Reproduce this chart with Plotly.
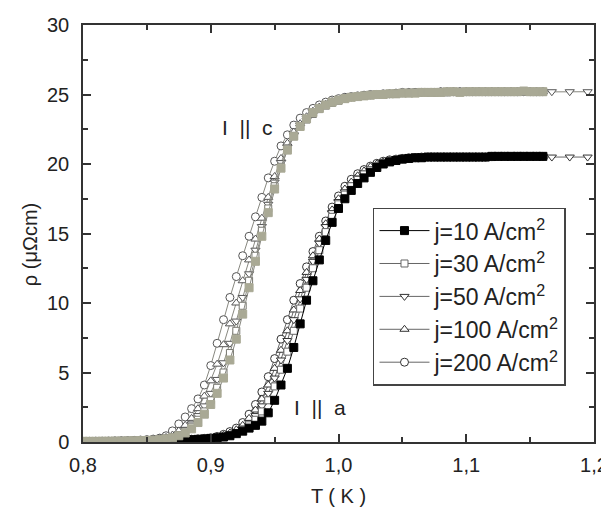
import plotly.graph_objects as go

# Temperature grid (K)
T = [0.800, 0.805, 0.810, 0.815, 0.820, 0.825, 0.830, 0.835, 0.840, 0.845,
     0.850, 0.855, 0.860, 0.865, 0.870, 0.875, 0.880, 0.885, 0.890, 0.895,
     0.900, 0.905, 0.910, 0.915, 0.920, 0.925, 0.930, 0.935, 0.940, 0.945,
     0.950, 0.955, 0.960, 0.965, 0.970, 0.975, 0.980, 0.985, 0.990, 0.995,
     1.000, 1.005, 1.010, 1.015, 1.020, 1.025, 1.030, 1.035, 1.040, 1.045,
     1.050, 1.055, 1.060, 1.065, 1.070, 1.075, 1.080, 1.085, 1.090, 1.095,
     1.100, 1.105, 1.110, 1.115, 1.120, 1.125, 1.130, 1.135, 1.140, 1.145,
     1.150, 1.155, 1.160]
T_tail = [1.167, 1.181, 1.195]

# I || c  (rho in micro-Ohm cm)
c10 = [0.05, 0.05, 0.05, 0.06, 0.06, 0.07, 0.07, 0.08, 0.09, 0.10,
       0.11, 0.13, 0.16, 0.22, 0.30, 0.45, 0.65, 0.95, 1.4, 2.0,
       2.7, 3.5, 4.6, 5.9, 7.4, 9.2, 11.1, 13.0, 14.8, 16.5,
       18.2, 19.7, 21.0, 22.0, 22.7, 23.25, 23.7, 24.0, 24.25, 24.45,
       24.6, 24.7, 24.8, 24.85, 24.9, 24.95, 25.0, 25.0, 25.05, 25.05,
       25.1, 25.1, 25.1, 25.15, 25.15, 25.15, 25.15, 25.2, 25.2, 25.15,
       25.2, 25.2, 25.2, 25.2, 25.2, 25.2, 25.2, 25.2, 25.2, 25.25,
       25.2, 25.2, 25.2]
c30 = [0.05, 0.05, 0.06, 0.06, 0.07, 0.07, 0.08, 0.09, 0.10, 0.11,
       0.13, 0.15, 0.19, 0.26, 0.35, 0.5, 0.75, 1.1, 1.6, 2.2,
       3.0, 3.9, 5.0, 6.4, 8.0, 9.8, 11.6, 13.4, 15.2, 16.8,
       18.4, 19.8, 21.1, 22.0, 22.7, 23.2, 23.6, 23.95, 24.2, 24.4,
       24.55, 24.7, 24.8, 24.85, 24.9, 24.95, 25.0, 25.0, 25.05, 25.05,
       25.1, 25.1, 25.15, 25.15, 25.15, 25.15, 25.15, 25.15, 25.2, 25.2,
       25.2, 25.2, 25.2, 25.2, 25.2, 25.2, 25.2, 25.2, 25.2, 25.2,
       25.2, 25.2, 25.2]
c50 = [0.05, 0.05, 0.06, 0.06, 0.07, 0.08, 0.08, 0.09, 0.10, 0.12,
       0.14, 0.17, 0.21, 0.28, 0.4, 0.6, 0.9, 1.3, 1.9, 2.6,
       3.5, 4.5, 5.7, 7.1, 8.7, 10.4, 12.1, 13.8, 15.5, 17.1,
       18.7, 20.1, 21.2, 22.1, 22.8, 23.3, 23.7, 24.0, 24.25, 24.45,
       24.6, 24.7, 24.8, 24.85, 24.9, 24.95, 25.0, 25.0, 25.05, 25.05,
       25.1, 25.15, 25.15, 25.15, 25.15, 25.15, 25.2, 25.2, 25.2, 25.2,
       25.2, 25.2, 25.2, 25.2, 25.2, 25.2, 25.2, 25.2, 25.2, 25.2,
       25.2, 25.2, 25.2]
c50_tail = [25.2, 25.2, 25.2]
c100 = [0.05, 0.05, 0.06, 0.06, 0.07, 0.08, 0.09, 0.10, 0.11, 0.13,
        0.15, 0.19, 0.24, 0.33, 0.5, 0.8, 1.2, 1.7, 2.4, 3.3,
        4.4, 5.6, 7.0, 8.5, 10.0, 11.6, 13.1, 14.6, 16.1, 17.6,
        19.1, 20.4, 21.5, 22.3, 22.9, 23.4, 23.8, 24.1, 24.3, 24.5,
        24.6, 24.7, 24.8, 24.85, 24.9, 24.95, 25.0, 25.0, 25.05, 25.05,
        25.1, 25.15, 25.15, 25.15, 25.15, 25.15, 25.2, 25.2, 25.2, 25.2,
        25.2, 25.2, 25.2, 25.2, 25.2, 25.2, 25.2, 25.2, 25.2, 25.2,
        25.2, 25.2, 25.2]
c200 = [0.05, 0.05, 0.06, 0.06, 0.07, 0.08, 0.09, 0.10, 0.12, 0.14,
        0.17, 0.21, 0.28, 0.45, 0.8, 1.3, 1.8, 2.4, 3.1, 4.1,
        5.5, 7.1, 8.8, 10.4, 11.9, 13.4, 14.8, 16.2, 17.6, 19.0,
        20.2, 21.3, 22.1, 22.8, 23.3, 23.7, 24.0, 24.25, 24.45, 24.6,
        24.7, 24.8, 24.85, 24.9, 24.95, 25.0, 25.0, 25.05, 25.05, 25.1,
        25.15, 25.15, 25.15, 25.15, 25.15, 25.15, 25.2, 25.2, 25.2, 25.2,
        25.2, 25.2, 25.2, 25.2, 25.2, 25.2, 25.2, 25.2, 25.2, 25.2,
        25.2, 25.2, 25.2]

# I || a
a10 = [0.02, 0.02, 0.02, 0.03, 0.03, 0.03, 0.04, 0.04, 0.05, 0.05,
       0.06, 0.07, 0.08, 0.09, 0.10, 0.12, 0.14, 0.16, 0.19, 0.22,
       0.26, 0.30, 0.36, 0.45, 0.6, 0.78, 1.0, 1.2, 1.5, 2.1,
       3.0, 4.1, 5.3, 6.8, 8.5, 10.2, 11.6, 13.1, 14.5, 15.8,
       16.8, 17.5, 18.1, 18.6, 19.0, 19.4, 19.75, 20.0, 20.15, 20.25,
       20.35, 20.4, 20.45, 20.45, 20.5, 20.5, 20.5, 20.5, 20.5, 20.5,
       20.5, 20.5, 20.5, 20.5, 20.55, 20.55, 20.55, 20.55, 20.55, 20.55,
       20.55, 20.55, 20.55]
a30 = [0.02, 0.02, 0.02, 0.03, 0.03, 0.03, 0.04, 0.04, 0.05, 0.05,
       0.06, 0.07, 0.08, 0.09, 0.11, 0.13, 0.15, 0.17, 0.20, 0.23,
       0.26, 0.31, 0.38, 0.48, 0.65, 0.88, 1.2, 1.6, 2.2, 3.0,
       4.0, 5.2, 6.5, 8.0, 9.6, 11.1, 12.5, 13.8, 15.1, 16.2,
       17.1, 17.8, 18.4, 18.85, 19.25, 19.55, 19.85, 20.05, 20.2, 20.3,
       20.35, 20.4, 20.45, 20.45, 20.5, 20.5, 20.5, 20.5, 20.5, 20.5,
       20.5, 20.5, 20.5, 20.5, 20.5, 20.55, 20.55, 20.55, 20.55, 20.55,
       20.55, 20.55, 20.55]
a50 = [0.02, 0.02, 0.02, 0.03, 0.03, 0.03, 0.04, 0.04, 0.05, 0.05,
       0.06, 0.07, 0.08, 0.10, 0.11, 0.13, 0.15, 0.17, 0.20, 0.23,
       0.27, 0.33, 0.42, 0.55, 0.75, 1.0, 1.4, 1.9, 2.6, 3.5,
       4.6, 5.9, 7.3, 8.8, 10.3, 11.7, 13.0, 14.3, 15.5, 16.5,
       17.3, 18.0, 18.5, 19.0, 19.35, 19.65, 19.9, 20.1, 20.2, 20.3,
       20.35, 20.4, 20.45, 20.45, 20.5, 20.5, 20.5, 20.5, 20.5, 20.5,
       20.5, 20.5, 20.5, 20.5, 20.5, 20.55, 20.55, 20.55, 20.55, 20.55,
       20.55, 20.55, 20.55]
a50_tail = [20.5, 20.5, 20.5]
a100 = [0.02, 0.02, 0.02, 0.03, 0.03, 0.04, 0.04, 0.05, 0.05, 0.06,
        0.07, 0.08, 0.09, 0.10, 0.12, 0.14, 0.16, 0.18, 0.21, 0.24,
        0.28, 0.36, 0.48, 0.65, 0.88, 1.2, 1.7, 2.3, 3.1, 4.1,
        5.3, 6.6, 8.0, 9.5, 10.9, 12.2, 13.4, 14.6, 15.7, 16.7,
        17.5, 18.2, 18.7, 19.15, 19.5, 19.8, 20.0, 20.15, 20.25, 20.35,
        20.4, 20.4, 20.45, 20.45, 20.5, 20.5, 20.5, 20.5, 20.5, 20.5,
        20.5, 20.5, 20.5, 20.5, 20.5, 20.55, 20.55, 20.55, 20.55, 20.55,
        20.55, 20.55, 20.55]
a200 = [0.02, 0.02, 0.02, 0.03, 0.03, 0.04, 0.04, 0.05, 0.05, 0.06,
        0.07, 0.08, 0.09, 0.11, 0.13, 0.15, 0.17, 0.20, 0.23, 0.26,
        0.3, 0.4, 0.55, 0.75, 1.0, 1.4, 2.0, 2.7, 3.6, 4.7,
        6.0, 7.4, 8.8, 10.2, 11.4, 12.6, 13.7, 14.8, 15.9, 16.9,
        17.7, 18.4, 18.9, 19.3, 19.6, 19.85, 20.05, 20.2, 20.3, 20.35,
        20.4, 20.45, 20.45, 20.5, 20.5, 20.5, 20.5, 20.5, 20.5, 20.5,
        20.5, 20.5, 20.5, 20.5, 20.55, 20.55, 20.55, 20.55, 20.55, 20.55,
        20.55, 20.55, 20.55]

labels = ["j=10 A/cm<sup>2</sup>", "j=30 A/cm<sup>2</sup>", "j=50 A/cm<sup>2</sup>",
          "j=100 A/cm<sup>2</sup>", "j=200 A/cm<sup>2</sup>"]

for s in (c10, c30, c50, c100, c200, a10, a30, a50, a100, a200):
    assert len(s) == len(T), len(s)

FONT = "Liberation Sans, Arial, sans-serif"
OLIVE = "#a9a995"

fig = go.Figure()

def add(x, y, name, symbol, fill, edge, linecol, size, show, group):
    fig.add_trace(go.Scatter(
        x=x, y=y, mode="lines+markers", name=name, legendgroup=group,
        showlegend=show,
        line=dict(color=linecol, width=1),
        marker=dict(symbol=symbol, size=size, color=fill,
                    line=dict(color=edge, width=1)),
    ))

# I || a group (open markers first, filled squares on top)
add(T, a200, labels[4], "circle", "white", "#333333", "#666666", 8, True, "g5")
add(T, a100, labels[3], "triangle-up", "white", "#333333", "#666666", 8, True, "g4")
add(T + T_tail, a50 + a50_tail, labels[2], "triangle-down", "white", "#333333", "#666666", 8, True, "g3")
add(T, a30, labels[1], "square", "white", "#666666", "#666666", 7, True, "g2")
add(T, a10, labels[0], "square", "black", "black", "black", 8, True, "g1")

# I || c group
add(T, c200, labels[4], "circle", "white", "#555555", "#888880", 8, False, "g5")
add(T, c100, labels[3], "triangle-up", "white", "#555555", "#888880", 8, False, "g4")
add(T + T_tail, c50 + c50_tail, labels[2], "triangle-down", "white", "#555555", "#888880", 8, False, "g3")
add(T, c30, labels[1], "square", "white", "#777770", "#888880", 7, False, "g2")
add(T, c10, labels[0], "square", OLIVE, OLIVE, "#888880", 8, False, "g1")

fig.add_annotation(x=0.929, y=22.6, text="I&nbsp; ||&nbsp; c", showarrow=False,
                   font=dict(family=FONT, size=21, color="#222"))
fig.add_annotation(x=0.9855, y=2.5, text="I&nbsp; ||&nbsp; a", showarrow=False,
                   font=dict(family=FONT, size=21, color="#222"))
# y-axis title (placed a little below the axis centre, as in the original)
fig.add_annotation(x=0, xref="paper", xanchor="center", xshift=-53,
                   y=0.472, yref="paper", yanchor="middle", textangle=-90,
                   text="ρ (μΩcm)", showarrow=False,
                   font=dict(family=FONT, size=20, color="#222"))

axis_common = dict(
    showline=True, linecolor="#333333", linewidth=1.5, mirror="ticks",
    ticks="inside", ticklen=8, tickwidth=1.5, tickcolor="#333333",
    showgrid=False, zeroline=False, automargin=False,
    tickfont=dict(family=FONT, size=20, color="#222"),
)

# the page body adds an 8px offset; size the figure so that it fills 609x508
fig.update_layout(
    width=601, height=500,
    margin=dict(l=75, r=15, t=17, b=66),
    paper_bgcolor="white", plot_bgcolor="white",
    separators=",.",
    font=dict(family=FONT, color="#222"),
    xaxis=dict(range=[0.8, 1.2], dtick=0.1, tick0=0.8, tickformat=".1f",
               minor=dict(dtick=0.05, ticks="inside", ticklen=5, tickcolor="#333333"),
               title=dict(text="T ( K )", font=dict(family=FONT, size=20), standoff=14),
               ticklabelstandoff=4,
               **axis_common),
    yaxis=dict(range=[0, 30], dtick=5, tick0=0,
               minor=dict(dtick=2.5, ticks="inside", ticklen=5, tickcolor="#333333"),
               ticklabelstandoff=8,
               **axis_common),
    legend=dict(x=0.5675, y=0.562, xanchor="left", yanchor="top",
                bordercolor="#444444", borderwidth=1.5, bgcolor="white",
                font=dict(family=FONT, size=23, color="#222"),
                itemwidth=50,
                tracegroupgap=1, traceorder="reversed"),
)

fig.write_html("out.html")
